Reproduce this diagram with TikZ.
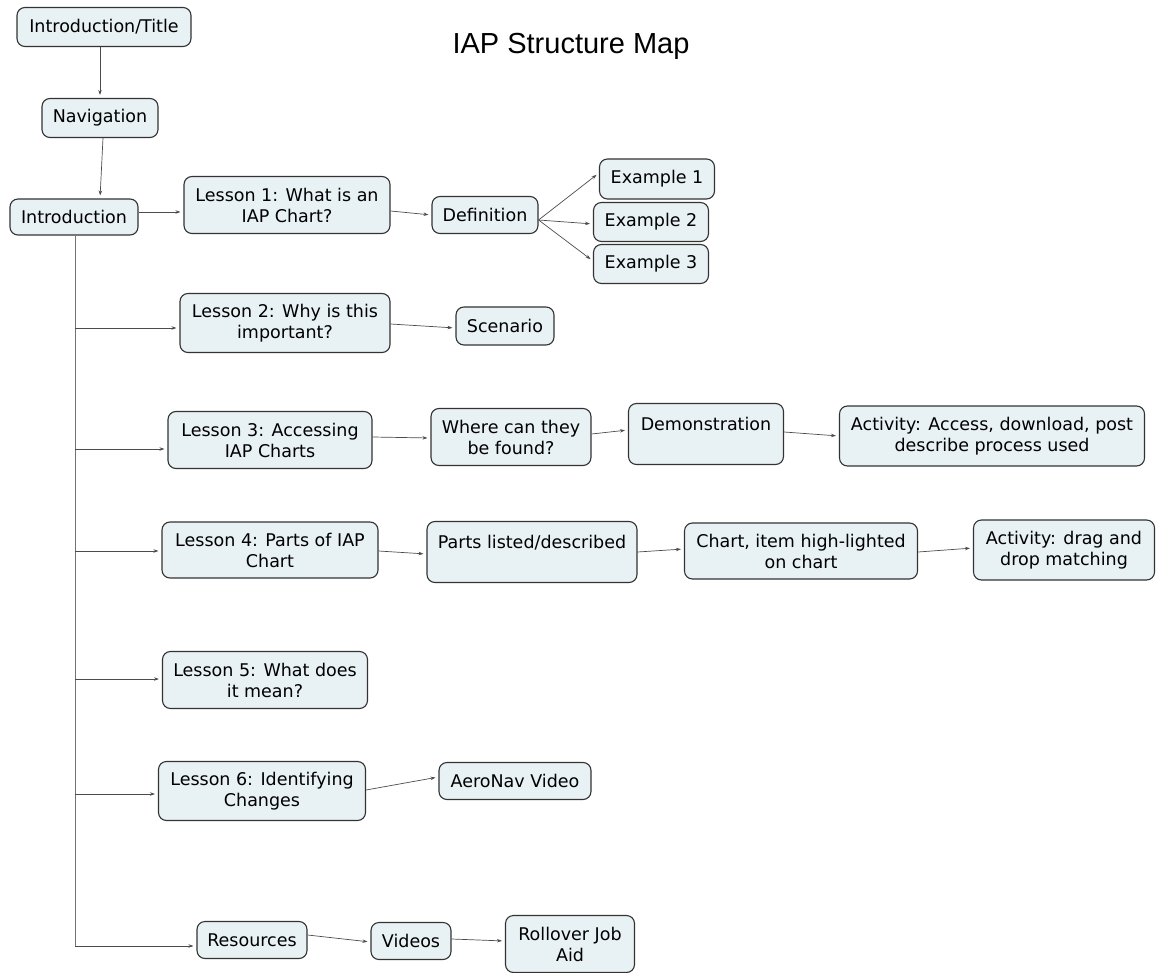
\documentclass[tikz,border=0pt]{standalone}
\usepackage{fontspec}
\setmainfont{DejaVu Sans}
\newfontfamily\titlefont{Liberation Sans}
\usetikzlibrary{arrows.meta}
\tikzset{
  box/.style={draw=black!80, line width=1.1pt, fill=boxfill, rounded corners=8pt,
    align=center, inner sep=0pt, font=\fontsize{17.5}{21}\selectfont},
  conn/.style={draw=black!70, line width=0.7pt, -{Stealth[length=5pt,width=3.5pt]}, shorten >=3pt},
  trunk/.style={draw=black!55, line width=1pt},
}
\definecolor{boxfill}{HTML}{E8F1F4}
\begin{document}
\begin{tikzpicture}[x=1pt,y=-1pt]
\useasboundingbox (0,0) rectangle (1156,973);
\node[font=\titlefont\fontsize{29}{32}\selectfont] (title) at (571,46) {IAP Structure Map};
% nodes
\node[box, minimum width=174pt, minimum height=39pt] (it) at (104,27) {Introduction/Title};
\node[box, minimum width=116pt, minimum height=39pt] (nav) at (100,118) {Navigation};
\node[box, minimum width=128pt, minimum height=36pt] (intro) at (74,217) {Introduction};
\node[box, minimum width=206pt, minimum height=57pt] (l1) at (287,205) {Lesson 1: What is an\\IAP Chart?};
\node[box, minimum width=106pt, minimum height=37pt] (def) at (485,215) {Definition};
\node[box, minimum width=115pt, minimum height=40pt] (e1) at (657,179) {Example 1};
\node[box, minimum width=115pt, minimum height=39pt] (e2) at (651,222) {Example 2};
\node[box, minimum width=115pt, minimum height=39pt] (e3) at (651,264) {Example 3};
\node[box, minimum width=210pt, minimum height=59pt] (l2) at (285,323) {Lesson 2: Why is this\\important?};
\node[box, minimum width=98pt, minimum height=38pt] (scen) at (505,326) {Scenario};
\node[box, minimum width=204pt, minimum height=57pt] (l3) at (270,440) {Lesson 3: Accessing\\IAP Charts};
\node[box, minimum width=160pt, minimum height=57pt] (where) at (511,437) {Where can they\\be found?};
\node[box, minimum width=155pt, minimum height=61pt] (demo) at (706,434) {Demonstration\\\phantom{X}};
\node[box, minimum width=305pt, minimum height=60pt] (act1) at (992,436) {Activity: Access, download, post\\describe process used};
\node[box, minimum width=216pt, minimum height=56pt] (l4) at (270,550) {Lesson 4: Parts of IAP\\Chart};
\node[box, minimum width=210pt, minimum height=61pt] (parts) at (532,552) {Parts listed/described\\\phantom{X}};
\node[box, minimum width=233pt, minimum height=56pt] (chart) at (801,551) {Chart, item high-lighted\\on chart};
\node[box, minimum width=181pt, minimum height=60pt] (act2) at (1064,550) {Activity: drag and\\drop matching};
\node[box, minimum width=205pt, minimum height=57pt] (l5) at (265,680) {Lesson 5: What does\\it mean?};
\node[box, minimum width=207pt, minimum height=59pt] (l6) at (262,791) {Lesson 6: Identifying\\Changes};
\node[box, minimum width=152pt, minimum height=37pt] (aero) at (515,781) {AeroNav Video};
\node[box, minimum width=110pt, minimum height=37pt] (res) at (252,940) {Resources};
\node[box, minimum width=80pt, minimum height=37pt] (vid) at (411,941) {Videos};
\node[box, minimum width=129pt, minimum height=57pt] (roll) at (570,944) {Rollover Job\\Aid};
% trunk
\coordinate (t0) at (75,235);
\coordinate (t1) at (75,946);
\draw[trunk] (t0) -- (t1);
\foreach \n/\y in {l2/328, l3/449, l4/551, l5/679, l6/794, res/946}{
  \draw[conn] (75,\y) -- (\n.west |- 0,\y);
}
% connectors
\draw[conn] (it.south -| 100,0) -- (nav.north);
\draw[conn] ([xshift=3pt]nav.south) -- ([xshift=26pt]intro.north);
\draw[conn] (intro.east |- 0,212) -- (l1.west |- 0,212);
\draw[conn] (l1.east |- 0,211) -- (def.west);
\draw[conn] ([yshift=-5pt]def.east) -- ([yshift=6pt]e1.west);
\draw[conn] ([yshift=-5pt]def.east) -- ([yshift=-2pt]e2.west);
\draw[conn] ([yshift=-5pt]def.east) -- ([yshift=3pt]e3.west);
\draw[conn] ([yshift=-1pt]l2.east) -- ([yshift=-2pt]scen.west);
\draw[conn] ([yshift=3pt]l3.east) -- ([yshift=-1pt]where.west);
\draw[conn] ([yshift=3pt]where.east) -- ([yshift=4pt]demo.west);
\draw[conn] ([yshift=2pt]demo.east) -- (act1.west);
\draw[conn] ([yshift=-1pt]l4.east) -- ([yshift=-2pt]parts.west);
\draw[conn] (parts.east) -- ([yshift=2pt]chart.west);
\draw[conn] ([yshift=-1pt]chart.east) -- ([yshift=2pt]act2.west);
\draw[conn] ([yshift=1pt]l6.east) -- ([yshift=4pt]aero.west);
\draw[conn] ([yshift=5pt]res.east) -- ([yshift=-1pt]vid.west);
\draw[conn] ([yshift=2pt]vid.east) -- ([yshift=3pt]roll.west);
\end{tikzpicture}
\end{document}
